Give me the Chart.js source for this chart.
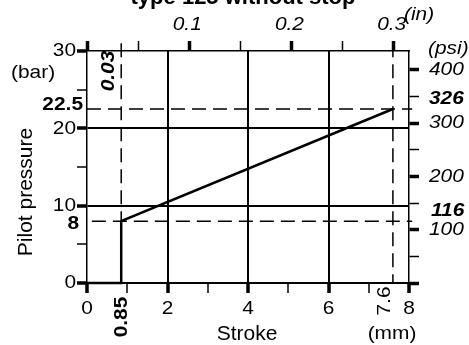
<!DOCTYPE html>
<html>
<head>
<meta charset="utf-8">
<script src="https://cdn.jsdelivr.net/npm/chart.js@4.4.0/dist/chart.umd.min.js"></script>
<style>
  html, body { margin: 0; padding: 0; background: #fff; }
  canvas { display: block; }
</style>
</head>
<body>
<canvas id="chart" width="469" height="345"></canvas>
<script>
const chartTitle = "type 125 without stop";
// stroke (mm) vs pilot pressure (bar)
const stroke = [0, 0.85, 0.85, 7.6];
const pressure = [0, 0, 8, 22.5];
// tick labels
const mmTicks = [0, 2, 4, 6, 8];
const barTicks = [0, 10, 20, 30];
const psiTicks = [100, 200, 300, 400];
const inchTicks = [0.1, 0.2, 0.3];
// marked values
const markStroke = [0.85, 7.6];
const markStrokeLabels = ["0.85", "7.6"];
const markPressure = [22.5, 8];
const markPressureLabels = ["22.5", "8"];
const markPsiLabels = ["326", "116"];
const markInch = 0.03;
const markInchLabel = "0.03";

const BAR_TO_PSI = 14.5038;
const MM_PER_INCH = 25.4;
const FONT = '"Liberation Sans", Arial, sans-serif';
const STRETCH = 1.1;   // tick labels in the original are drawn a bit wide

const black = "#000";
const none = "rgba(0,0,0,0)";

function majorWidth(isMajor) { return isMajor ? 3.5 : 1.5; }

// text drawn wider than its font, optionally rotated
function put(ctx, text, x, y, font, align, angle) {
  ctx.save();
  ctx.translate(x, y);
  if (angle) ctx.rotate(angle);
  ctx.scale(STRETCH, 1);
  ctx.font = font;
  ctx.textAlign = align;
  ctx.textBaseline = "middle";
  ctx.fillText(text, 0, 0);
  ctx.restore();
}

const extraText = {
  id: "extraText",
  afterDraw(chart) {
    const { ctx, scales } = chart;
    const x = scales.x, y = scales.y, x2 = scales.x2, y2 = scales.y2;
    const up = -Math.PI / 2;
    ctx.save();
    ctx.fillStyle = black;

    // title (cut at top of image)
    ctx.font = "bold 22px " + FONT;
    ctx.textAlign = "center";
    ctx.textBaseline = "alphabetic";
    ctx.fillText(chartTitle, 243, 4);

    // axis titles
    ctx.font = "21px " + FONT;
    ctx.textBaseline = "middle";
    ctx.fillText("Stroke", 247, 334);
    ctx.save();
    ctx.translate(26, 192);
    ctx.rotate(up);
    ctx.fillText("Pilot pressure", 0, 0);
    ctx.restore();

    const reg = "19px " + FONT;
    const ital = "italic 19px " + FONT;
    const bold = "bold 19px " + FONT;
    const boldItal = "italic bold 19px " + FONT;

    put(ctx, "(mm)", 392, 334, reg, "center");
    put(ctx, "(bar)", 11, 73, reg, "left");
    put(ctx, "(psi)", 428, 49, ital, "left");
    put(ctx, "(in)", 404, 15, ital, "left");

    // regular tick labels
    mmTicks.forEach(v => put(ctx, String(v), x.getPixelForValue(v), 309, reg, "center"));
    barTicks.forEach(v => put(ctx, String(v), 76, y.getPixelForValue(v), reg, "right"));
    psiTicks.forEach(v => put(ctx, String(v), 429, y2.getPixelForValue(v), ital, "left"));
    inchTicks.forEach(v => put(ctx, v.toFixed(1), x2.getPixelForValue(v) - 2, 25, ital, "center"));

    // marked pressures on left and right
    put(ctx, markPressureLabels[0], 83, y.getPixelForValue(markPressure[0]) - 4, bold, "right");
    put(ctx, markPressureLabels[1], 79, y.getPixelForValue(markPressure[1]) + 3, bold, "right");
    put(ctx, markPsiLabels[0], 429, y.getPixelForValue(markPressure[0]) - 10, boldItal, "left");
    put(ctx, markPsiLabels[1], 431, y.getPixelForValue(markPressure[1]) - 10, boldItal, "left");

    // marked strokes and inch value, rotated
    put(ctx, markStrokeLabels[0], x.getPixelForValue(markStroke[0]) + 1, 317, bold, "center", up);
    put(ctx, markStrokeLabels[1], x.getPixelForValue(markStroke[1]) - 8, 301, reg, "center", up);
    put(ctx, markInchLabel, x2.getPixelForValue(markInch) - 9, 71, boldItal, "center", up);

    ctx.restore();
  }
};

const dashed = [14, 7];

function refLine(points) {
  return {
    data: points, borderColor: black, borderWidth: 1.5, borderDash: dashed,
    pointRadius: 0, clip: false, xAxisID: "x", yAxisID: "y"
  };
}

new Chart(document.getElementById("chart").getContext("2d"), {
  type: "line",
  data: {
    datasets: [
      refLine([{ x: 0, y: markPressure[0] }, { x: 8.08, y: markPressure[0] }]),
      refLine([{ x: 0.12, y: markPressure[1] }, { x: 8.08, y: markPressure[1] }]),
      refLine([{ x: markStroke[0], y: 31 }, { x: markStroke[0], y: 0 }]),
      refLine([{ x: markStroke[1], y: 31 }, { x: markStroke[1], y: 0 }]),
      {
        data: stroke.map((s, i) => ({ x: s, y: pressure[i] })),
        borderColor: black, borderWidth: 2.5, pointRadius: 0,
        tension: 0, clip: false, xAxisID: "x", yAxisID: "y"
      }
    ]
  },
  options: {
    responsive: false,
    animation: false,
    layout: { padding: 0 },
    plugins: { legend: { display: false }, tooltip: { enabled: false }, title: { display: false } },
    scales: {
      x: {
        type: "linear", axis: "x", position: "bottom", min: 0, max: 8,
        ticks: { stepSize: 1, autoSkip: false, display: false },
        grid: {
          color: c => ([2, 4, 6].includes(c.tick && c.tick.value) ? black : none),
          lineWidth: 2, tickLength: 10, tickColor: black,
          tickWidth: c => majorWidth(c.tick && c.tick.value % 2 === 0)
        },
        border: { color: black, width: 2 },
        afterFit: s => { s.height = 62; }
      },
      x2: {
        type: "linear", axis: "x", position: "top", min: 0, max: 8 / MM_PER_INCH,
        ticks: { stepSize: 0.05, includeBounds: false, autoSkip: false, display: false },
        grid: {
          drawOnChartArea: false, tickLength: 10, tickColor: black,
          tickWidth: c => majorWidth(c.tick && Math.round(c.tick.value * 100) % 10 === 0)
        },
        border: { color: black, width: 1.5 },
        afterFit: s => { s.height = 51; }
      },
      y: {
        type: "linear", axis: "y", position: "left", min: 0, max: 30,
        ticks: { stepSize: 5, autoSkip: false, display: false },
        grid: {
          color: c => ([10, 20].includes(c.tick && c.tick.value) ? black : none),
          lineWidth: 2, tickLength: 10, tickColor: black,
          tickWidth: c => majorWidth(c.tick && c.tick.value % 10 === 0)
        },
        border: { color: black, width: 1.5 },
        afterFit: s => { s.width = 87; }
      },
      y2: {
        type: "linear", axis: "y", position: "right", min: 0, max: 30 * BAR_TO_PSI,
        ticks: { stepSize: 50, includeBounds: false, autoSkip: false, display: false },
        grid: {
          drawOnChartArea: false, tickLength: 10, tickColor: black,
          tickWidth: c => majorWidth(c.tick && c.tick.value % 100 === 0)
        },
        border: { color: black, width: 1.5 },
        afterFit: s => { s.width = 60; }
      }
    }
  },
  plugins: [extraText]
});
</script>
</body>
</html>
